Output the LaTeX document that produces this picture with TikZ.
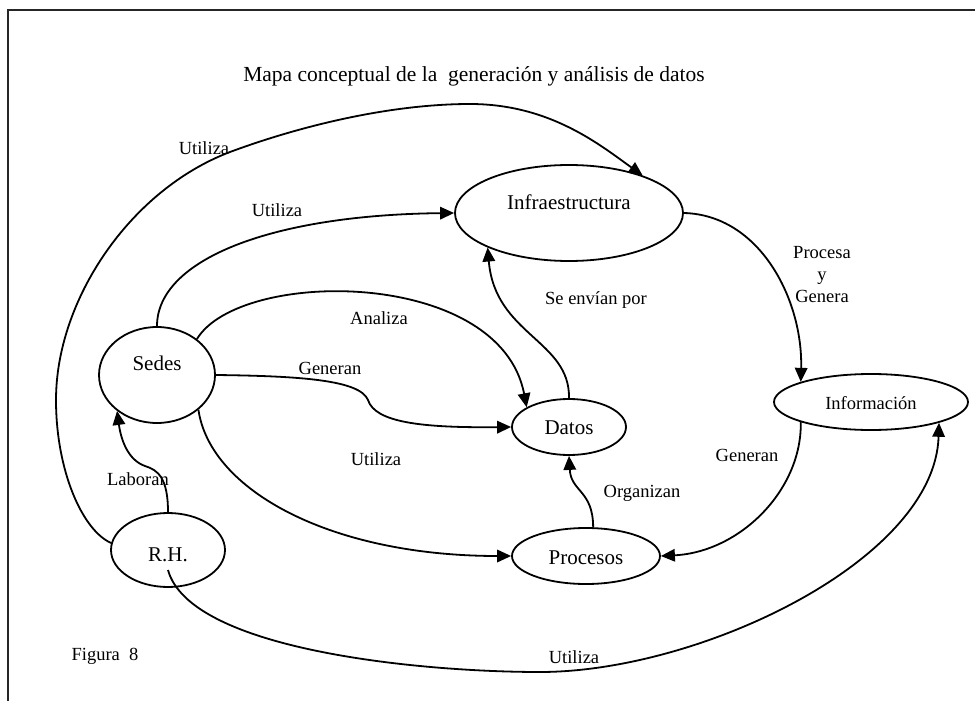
\documentclass[tikz,border=0pt]{standalone}
\usepackage{fontspec}
\setmainfont{Liberation Serif}
\usetikzlibrary{arrows.meta,shapes.geometric}
\begin{document}
\begin{tikzpicture}[x=1pt,y=-1pt,
  concept/.style={draw, ellipse, line width=1.8pt, inner sep=0pt},
  nodetext/.style={inner sep=0pt, font=\fontsize{21}{25}\selectfont},
  linklabel/.style={inner sep=0pt, font=\fontsize{18.5}{22}\selectfont, align=center},
  conn/.style={line width=1.8pt, -{Triangle[length=14pt,width=12.5pt]}}
]
\useasboundingbox (0,0) rectangle (975,701);
\fill[white] (0,0) rectangle (975,701);
% page frame
\draw[black!85, line width=2pt] (8,701) -- (8,10) -- (975,10);

% title and caption
\node[inner sep=0pt, font=\fontsize{21.5}{26}\selectfont] (title) at (474,76)
  {Mapa conceptual de la \ generación y análisis de datos};
\node[linklabel] (fig) at (105,656) {Figura \ 8};

% concepts
\node[concept, minimum width=228pt, minimum height=96pt] (infra) at (569,213) {};
\node[nodetext] (infrat) at (569,202) {Infraestructura};
\node[concept, minimum width=116pt, minimum height=96pt] (sedes) at (157,375) {};
\node[nodetext] (sedest) at (157,363) {Sedes};
\node[concept, minimum width=114pt, minimum height=56pt] (datos) at (569,427) {};
\node[nodetext] (datost) at (569,428) {Datos};
\node[concept, minimum width=148pt, minimum height=56pt] (procesos) at (586,556) {};
\node[nodetext] (procesost) at (586,558) {Procesos};
\node[concept, minimum width=194pt, minimum height=56pt] (info) at (871,402) {};
\node[linklabel] (infot) at (871,403) {Información};
\node[concept, minimum width=114pt, minimum height=74pt] (rh) at (168,550) {};
\node[nodetext] (rht) at (168,555) {R.H.};
\coordinate (rhs) at (168,570);

% links
\draw[conn] (rh.173) .. controls (82,530) and (56,470) .. (56,400)
  .. controls (56,300) and (130,190) .. (230,152)
  .. controls (300,126) and (390,104) .. (470,104)
  .. controls (550,104) and (600,145) .. (infra.27);
\draw[conn] (sedes.north) .. controls (157,260) and (270,215) .. (infra.west);
\draw[conn] (sedes.42) .. controls (240,268) and (500,268) .. (datos.155);
\draw[conn] (sedes.east) .. controls (300,376) and (360,380) .. (368,400)
  .. controls (375,422) and (420,428) .. (datos.west);
\draw[conn] (sedes.-40) .. controls (210,490) and (330,556) .. (procesos.west);
\draw[conn] (datos.north) .. controls (570,340) and (495,335) .. (infra.203);
\draw[conn] (procesos.76) .. controls (593,490) and (571,492) .. (datos.south);
\draw[conn] (infra.east) .. controls (760,215) and (803,300) .. (info.164);
\draw[conn] (info.196) .. controls (802,490) and (740,552) .. (procesos.east);
\draw[conn] (rh.north) .. controls (168,478) and (158,470) .. (145,466)
  .. controls (128,460) and (121,440) .. (sedes.222);
\draw[conn] (rhs) .. controls (190,650) and (420,672) .. (540,672)
  .. controls (700,672) and (935,560) .. (info.-17);

% link labels
\node[linklabel] (l1) at (204,148) {Utiliza};
\node[linklabel] (l2) at (277,210) {Utiliza};
\node[linklabel] (l3) at (379,318) {Analiza};
\node[linklabel] (l4) at (330,368) {Generan};
\node[linklabel] (l5) at (376,459) {Utiliza};
\node[linklabel] (l6) at (596,300) {Se envían por};
\node[linklabel] (l7) at (642,493) {Organizan};
\node[linklabel] (l8) at (822,275) {Procesa\\y\\Genera};
\node[linklabel] (l9) at (747,455) {Generan};
\node[linklabel] (l10) at (138,479) {Laboran};
\node[linklabel] (l11) at (574,657) {Utiliza};
\end{tikzpicture}
\end{document}
